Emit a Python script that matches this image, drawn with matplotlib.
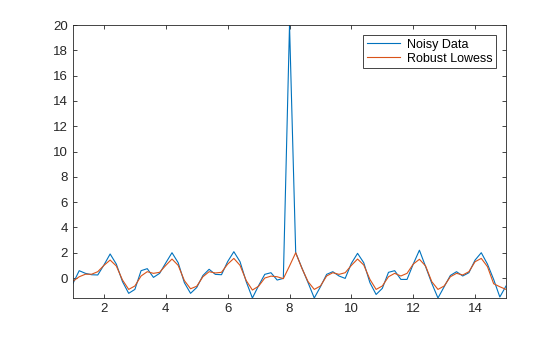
import numpy as np
import matplotlib
matplotlib.use("Agg")
import matplotlib.pyplot as plt

plt.rcParams['font.family'] = ['Liberation Sans', 'DejaVu Sans']

x = np.round(np.arange(1.0, 15.0001, 0.2), 1)

noisy = [-0.42, 0.58, 0.37, 0.26, 0.24, 1.03, 1.9, 1.1, -0.29, -1.21,
         -0.9, 0.58, 0.74, 0.05, 0.37, 1.2, 2.0, 1.21, -0.37, -1.21,
         -0.75, 0.2, 0.69, 0.29, 0.26, 1.3, 2.08, 1.29, -0.29, -1.58,
         -0.6, 0.29, 0.42, -0.16, -0.03, 20.0, 2.0, 0.8, -0.37, -1.58,
         -0.69, 0.29, 0.5, 0.16, -0.03, 1.16, 1.95, 1.21, -0.37, -1.3,
         -0.82, 0.45, 0.58, -0.11, -0.11, 1.1, 2.2, 0.9, -0.42, -1.58,
         -0.69, 0.2, 0.5, 0.16, 0.42, 1.42, 2.0, 1.1, -0.11, -1.5,
         -0.63]

robust = [-0.25, 0.1, 0.3, 0.3, 0.5, 1.0, 1.42, 0.95, -0.16, -0.9,
          -0.63, 0.16, 0.5, 0.37, 0.45, 1.0, 1.5, 1.0, -0.2, -0.85,
          -0.65, 0.1, 0.5, 0.4, 0.45, 1.1, 1.55, 1.0, -0.2, -0.95,
          -0.65, 0.0, 0.15, 0.1, -0.05, 0.95, 2.0, 0.77, -0.29, -0.9,
          -0.63, 0.16, 0.42, 0.29, 0.42, 1.0, 1.5, 1.03, -0.11, -0.9,
          -0.63, 0.1, 0.37, 0.16, 0.37, 1.1, 1.48, 0.95, -0.29, -0.9,
          -0.63, 0.1, 0.37, 0.24, 0.5, 1.29, 1.55, 0.9, -0.45, -0.69,
          -0.9]

xticks = [2, 4, 6, 8, 10, 12, 14]
yticks = [0, 2, 4, 6, 8, 10, 12, 14, 16, 18, 20]

fig = plt.figure(figsize=(5.6, 3.37), dpi=100)
ax = fig.add_axes([0.1304, 0.1157, 0.7732, 0.8101])
ax.plot(x, noisy, color='#0072BD', lw=0.8, label='Noisy Data')
ax.plot(x, robust, color='#D95319', lw=0.8, label='Robust Lowess')

ax.set_xlim(1, 15)
ax.set_ylim(min(noisy), max(noisy))
ax.set_xticks(xticks)
ax.set_yticks(yticks)
ax.tick_params(direction='in', length=3, width=0.6, colors='#262626',
               labelsize=9.5, top=True, right=True, labeltop=False, labelright=False)
for s in ax.spines.values():
    s.set_linewidth(0.6)
    s.set_color('#262626')

leg = ax.legend(loc='upper right', fontsize=9, frameon=True, fancybox=False,
                edgecolor='#262626', framealpha=1, borderpad=0.3,
                handlelength=2.7, handletextpad=0.5, labelspacing=0.15,
                borderaxespad=0.8)
leg.get_frame().set_linewidth(0.6)

fig.savefig('out.png', dpi=100)
